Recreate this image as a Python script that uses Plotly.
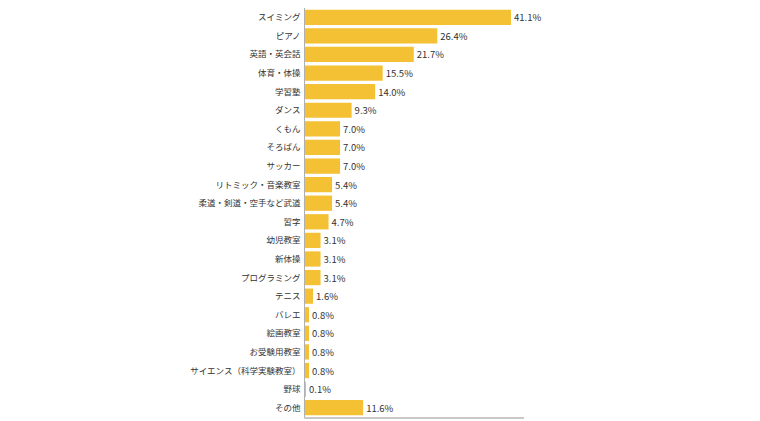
import plotly.graph_objects as go

# ── Data ────────────────────────────────────────────────────────────────────
CATEGORIES = [
    'スイミング', 'ピアノ', '英語・英会話', '体育・体操', '学習塾', 'ダンス',
    'くもん', 'そろばん', 'サッカー', 'リトミック・音楽教室',
    '柔道・剣道・空手など武道', '習字', '幼児教室', '新体操', 'プログラミング',
    'テニス', 'バレエ', '絵画教室', 'お受験用教室', 'サイエンス（科学実験教室）',
    '野球', 'その他',
]
VALUES = [41.1, 26.4, 21.7, 15.5, 14.0, 9.3, 7.0, 7.0, 7.0, 5.4,
          5.4, 4.7, 3.1, 3.1, 3.1, 1.6, 0.8, 0.8, 0.8, 0.8, 0.1, 11.6]
LABELS = [f'{v:.1f}%' for v in VALUES]

BAR_COL = '#F3C133'
TXT_COL = '#333333'
FONT = 'Noto Sans CJK JP, Noto Sans, sans-serif'

fig = go.Figure(go.Bar(
    x=VALUES, y=CATEGORIES, orientation='h',
    marker=dict(color=BAR_COL, line=dict(width=0)),
    text=LABELS, textposition='outside', cliponaxis=False,
    textfont=dict(size=9.5, color=TXT_COL, family=FONT),
))

# page body has an 8px margin, so the figure is sized/offset to compensate
fig.update_layout(
    width=752, height=413,
    margin=dict(l=297, r=236, t=0, b=4, autoexpand=False),
    paper_bgcolor='white', plot_bgcolor='white',
    font=dict(family=FONT, color=TXT_COL, size=9.5),
    bargap=0.18, showlegend=False,
)
fig.update_xaxes(range=[0, 43.7], showticklabels=False, showgrid=False,
                 zeroline=False, showline=True, linecolor='#c8c8c8',
                 linewidth=1.5, ticks='')
fig.update_yaxes(autorange='reversed', showgrid=False, zeroline=False,
                 showline=True, linecolor='#b0b0b0', linewidth=1,
                 ticks='', ticksuffix=' ', tickfont=dict(size=8.5, color=TXT_COL))

fig.write_html('out.html')
